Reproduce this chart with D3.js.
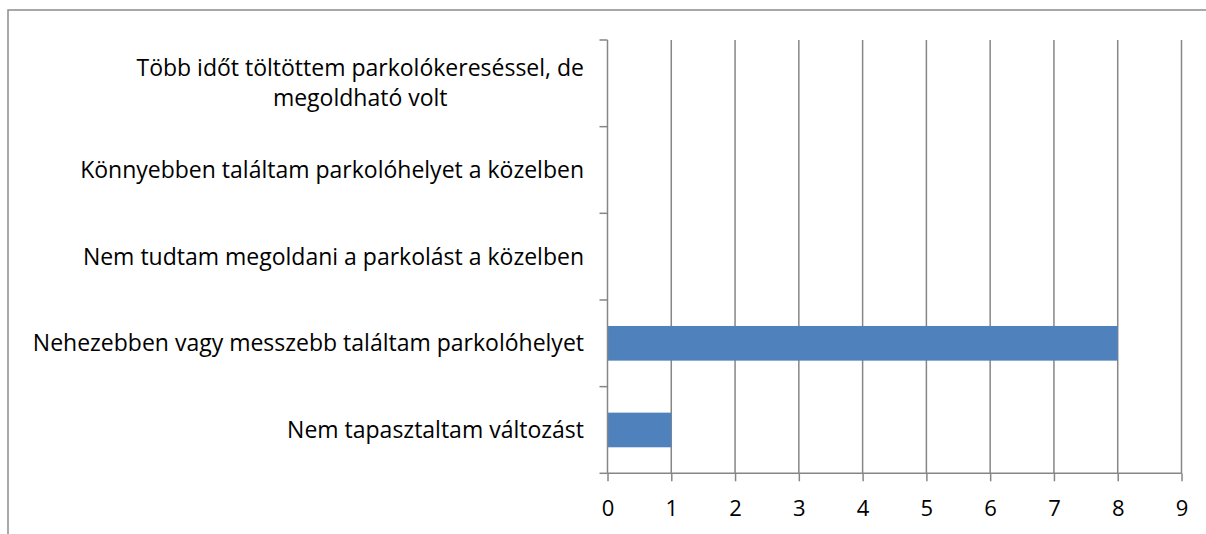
<!DOCTYPE html>
<html>
<head>
<meta charset="utf-8">
<script src="https://cdn.jsdelivr.net/npm/d3@7"></script>
<style>
  body { margin: 0; background: #fff; }
  svg text { font-family: "Open Sans", Lato, sans-serif; fill: #000; }
</style>
</head>
<body>
<div id="chart"></div>
<script>
// categories top to bottom ("\n" = line break as in the original)
var categories = [
  "Több időt töltöttem parkolókereséssel, de\nmegoldható volt",
  "Könnyebben találtam parkolóhelyet a közelben",
  "Nem tudtam megoldani a parkolást a közelben",
  "Nehezebben vagy messzebb találtam parkolóhelyet",
  "Nem tapasztaltam változást"
];
var counts = [0, 0, 0, 8, 1];
var xTicks = [0, 1, 2, 3, 4, 5, 6, 7, 8, 9];

var width = 1206, height = 534;
var margin = {left: 607.5, right: 24.5, top: 40, bottom: 60.7};
var fontSize = 23;
var gridColor = "#868686";

var svg = d3.select("#chart").append("svg")
  .attr("width", width)
  .attr("height", height);

// outer frame
svg.append("rect")
  .attr("x", 8).attr("y", 10)
  .attr("width", 1210).attr("height", 540)
  .attr("fill", "none")
  .attr("stroke", "#8c8c8c")
  .attr("stroke-width", 1.5);

var x = d3.scaleLinear()
  .domain([0, 9])
  .range([margin.left, width - margin.right]);

var y = d3.scaleBand()
  .domain(categories)
  .range([margin.top, height - margin.bottom]);

// vertical gridlines
svg.append("g")
  .selectAll("line")
  .data(xTicks.slice(1))
  .enter().append("line")
  .attr("x1", function(d) { return x(d); })
  .attr("x2", function(d) { return x(d); })
  .attr("y1", margin.top)
  .attr("y2", height - margin.bottom)
  .attr("stroke", gridColor)
  .attr("stroke-width", 1.5);

// bars
svg.append("g")
  .selectAll("rect")
  .data(categories)
  .enter().append("rect")
  .attr("x", x(0))
  .attr("y", function(d) { return y(d) + y.bandwidth() * 0.3; })
  .attr("width", function(d, i) { return x(counts[i]) - x(0); })
  .attr("height", y.bandwidth() * 0.4)
  .attr("fill", "#4f81bd");

// x axis
var xAxis = d3.axisBottom(x)
  .tickValues(xTicks)
  .tickSize(8)
  .tickPadding(19)
  .tickFormat(d3.format("d"));

var gx = svg.append("g")
  .attr("transform", "translate(0," + (height - margin.bottom) + ")")
  .call(xAxis);
gx.select(".domain").remove();
gx.append("line")
  .attr("x1", x(0)).attr("x2", x(9))
  .attr("stroke", gridColor).attr("stroke-width", 1.5);
gx.selectAll(".tick line").attr("stroke", gridColor).attr("stroke-width", 1.5);
gx.selectAll(".tick text")
  .style("font-size", "22px")
  .style("font-family", "'Open Sans', Lato, sans-serif")
  .attr("fill", "#000");

// y axis: line plus ticks at band edges
var gy = svg.append("g");
gy.append("line")
  .attr("x1", x(0)).attr("x2", x(0))
  .attr("y1", margin.top).attr("y2", height - margin.bottom)
  .attr("stroke", gridColor).attr("stroke-width", 1.5);
var edges = categories.map(function(d) { return y(d); }).concat([height - margin.bottom]);
gy.selectAll("line.tk")
  .data(edges)
  .enter().append("line")
  .attr("class", "tk")
  .attr("x1", x(0) - 8).attr("x2", x(0))
  .attr("y1", function(d) { return d; })
  .attr("y2", function(d) { return d; })
  .attr("stroke", gridColor).attr("stroke-width", 1.5);

// category labels: block right-aligned, lines centred inside the block
var labelX = 584, lineH = 30;
categories.forEach(function(c) {
  var lines = c.split("\n");
  var t = svg.append("text")
    .attr("text-anchor", "middle")
    .style("font-size", fontSize + "px");
  var cy = y(c) + y.bandwidth() / 2;
  var spans = lines.map(function(l, i) {
    return t.append("tspan")
      .attr("y", cy + (i - (lines.length - 1) / 2) * lineH)
      .attr("dy", "0.35em")
      .text(l);
  });
  var maxW = d3.max(spans, function(s) { return s.node().getComputedTextLength(); });
  spans.forEach(function(s) { s.attr("x", labelX - maxW / 2); });
});
</script>
</body>
</html>
